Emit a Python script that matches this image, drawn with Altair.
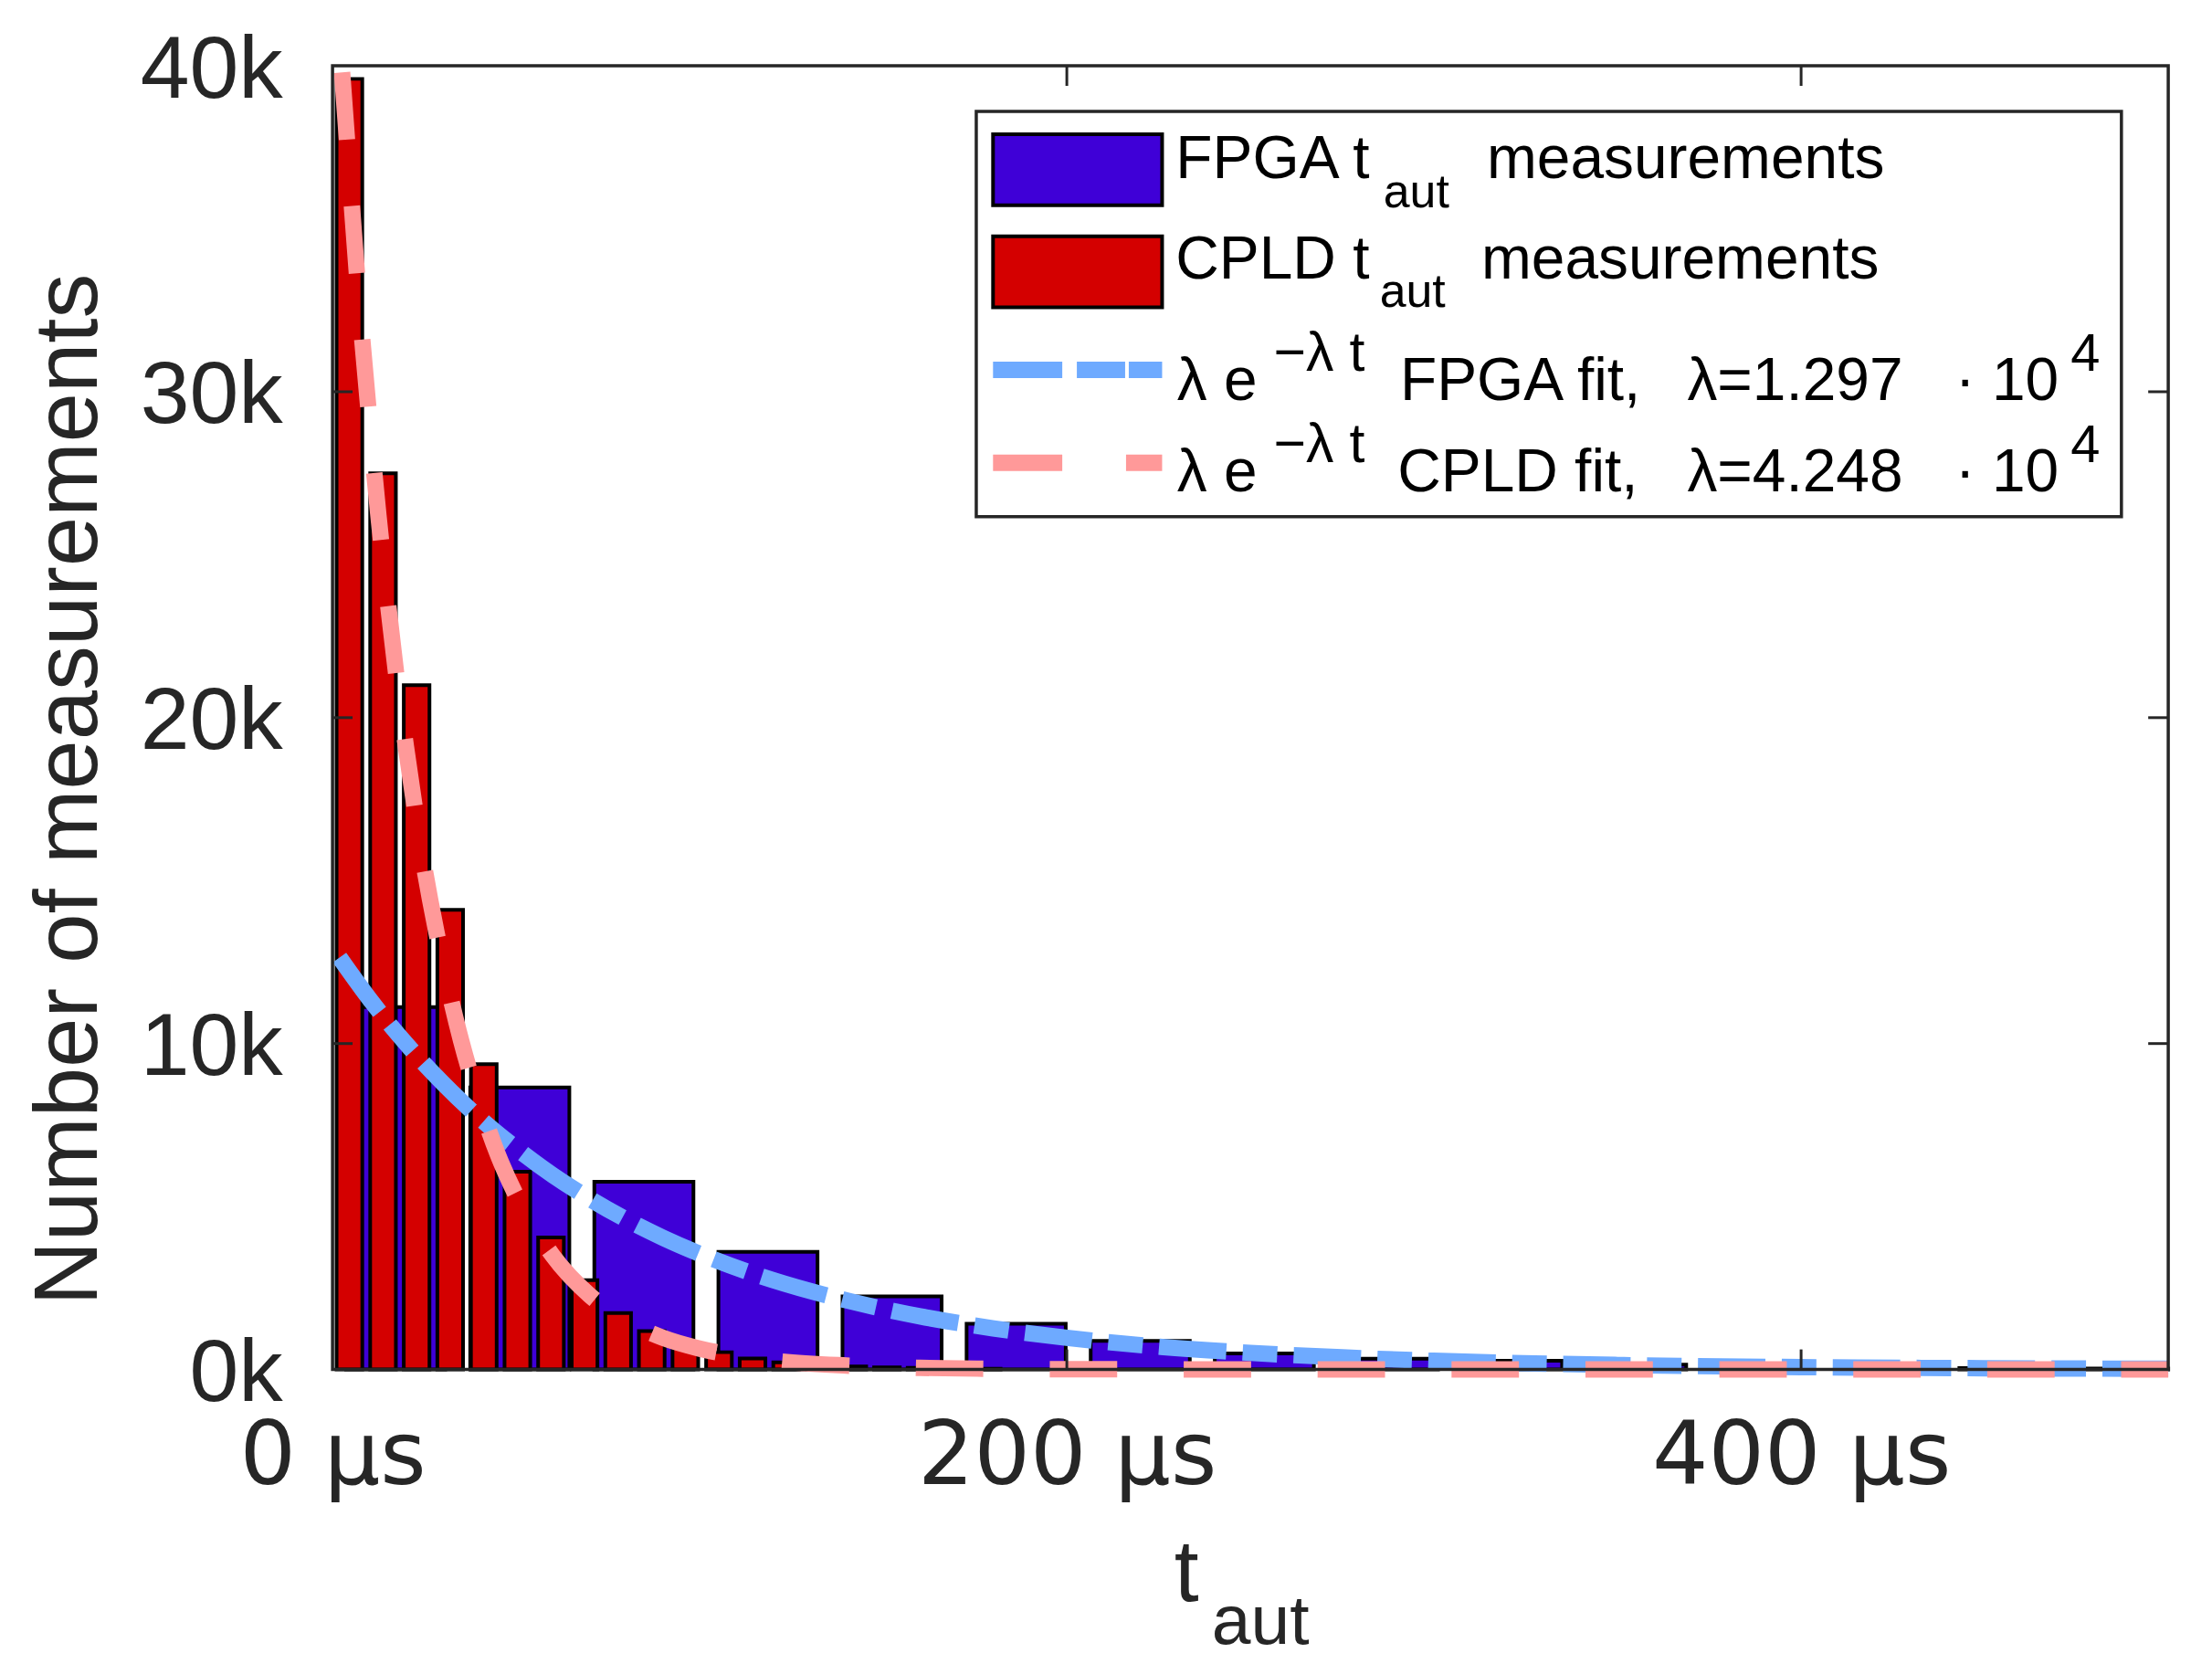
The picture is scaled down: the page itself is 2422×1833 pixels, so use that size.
import altair as alt
import pandas as pd

# ---------------- data ----------------
# CPLD histogram (red bars): bin centre [µs] and count
cpld_t = [4.6, 13.75, 22.9, 32.05, 41.2, 50.35, 59.5, 68.65, 77.8, 86.95,
          96.1, 105.25, 114.4, 123.55, 132.7, 141.85, 151.0, 160.15, 169.3, 178.45]
cpld_n = [39600, 27500, 21000, 14100, 9370, 6070, 4050, 2740, 1730, 1180,
          800, 530, 340, 220, 130, 90, 65, 47, 30, 20]

# FPGA histogram (blue bars): bin centre [µs] and count
fpga_t = [17.2, 51.0, 84.8, 118.6, 152.4, 186.2, 220.0, 253.8, 287.6, 321.4,
          355.2, 389.0, 422.8, 456.6, 490.4]
fpga_n = [11120, 8650, 5760, 3610, 2240, 1400, 880, 490, 330, 270,
          150, 90, 60, 40, 30]

# fitted curves
fpga_fit_t = [1.9, 10, 20, 30, 40, 50, 60, 70, 80, 90, 100, 120, 140, 160, 180,
              200, 225, 250, 275, 300, 350, 400, 450, 500]
fpga_fit_n = [12640, 11380, 10000, 8790, 7720, 6790, 5960, 5240, 4600, 4040, 3550,
              2740, 2120, 1630, 1260, 970, 700, 510, 370, 265, 138, 72, 38, 20]

cpld_fit_t = [2.6, 5, 7.5, 10, 12.5, 15, 17.5, 20, 25, 30, 35, 40, 45, 50, 60, 70,
              80, 90, 100, 110, 120, 140, 160, 180, 200, 250, 300, 400, 500]
cpld_fit_n = [39800, 36100, 32400, 29200, 26200, 23600, 21200, 19100, 15400, 12500,
              10100, 8200, 6600, 5340, 3490, 2280, 1490, 970, 640, 420, 270, 120,
              50, 21, 9, 1, 0, 0, 0]

x_ticks = [0, 200, 400]
y_ticks = [0, 10000, 20000, 30000, 40000]
inner_x_ticks = [200, 400]
inner_y_ticks = [10000, 20000, 30000]

y_title = "Number of measurements"
x_title_main = "t"
x_title_sub = "aut"
leg_meas = ["FPGA t", "CPLD t"]
leg_sub = "aut"
leg_meas_tail = "measurements"
leg_fit = ["FPGA fit,", "CPLD fit,"]
leg_lambda = ["λ=1.297", "λ=4.248"]
leg_exp_base = "λ e"
leg_exp_sup = "−λ t"
leg_pow_base = "· 10"
leg_pow_sup = "4"

# ---------------- styling ----------------
W, H = 2015, 1431
FONT = "Liberation Sans"
AX = "#262626"
BLUE = "#3F00D7"
RED = "#D40000"
LBLUE = "#6EAAFF"
PINK = "#FF9999"

xs = alt.Scale(domain=[0, 500], nice=False, zero=False)
ys = alt.Scale(domain=[0, 40000], nice=False)

xaxis = alt.Axis(values=x_ticks, labelExpr="datum.value + ' µs'", title=None,
                 grid=False, domain=False, ticks=False, tickSize=0,
                 labelFont="DejaVu Sans", labelFontSize=97, labelColor=AX, labelLimit=0,
                 labelPadding=125, labelBaseline="alphabetic", labelAlign="center",
                 labelOverlap=False, labelFlush=False, labelBound=False)
yaxis = alt.Axis(values=y_ticks, labelExpr="(datum.value/1000) + 'k'",
                 title=y_title, titleFont=FONT, titleFontSize=98,
                 titleFontWeight="normal", titleColor=AX, titleAngle=270,
                 titleX=-259, titleY=794, titleBaseline="alphabetic",
                 titleAlign="center", titleLimit=0,
                 grid=False, domain=False, ticks=False, tickSize=0,
                 labelFont=FONT, labelFontSize=97, labelColor=AX, labelLimit=0,
                 labelPadding=55, labelBaseline="alphabetic", labelOffset=34,
                 labelAlign="right", labelOverlap=False, labelFlush=False,
                 labelBound=False)


def X(f):
    return alt.X(f, scale=xs, axis=xaxis)


def Y(f):
    return alt.Y(f, scale=ys, axis=yaxis)


fpga_df = pd.DataFrame({"t": fpga_t, "n": fpga_n})
cpld_df = pd.DataFrame({"t": cpld_t, "n": cpld_n})
fpga_fit = pd.DataFrame({"t": fpga_fit_t, "n": fpga_fit_n})
cpld_fit = pd.DataFrame({"t": cpld_fit_t, "n": cpld_fit_n})
one = pd.DataFrame({"a": [0]})

fpga_bars = alt.Chart(fpga_df).transform_calculate(
    x0="datum.t - 13.5", x1="min(datum.t + 13.5, 500)", base="0"
).mark_rect(color=BLUE, stroke="black", strokeWidth=4).encode(
    x=X("x0:Q"), x2="x1:Q", y=Y("n:Q"), y2="base:Q")

cpld_bars = alt.Chart(cpld_df).transform_calculate(
    x0="datum.t - 3.5", x1="datum.t + 3.5", base="0"
).mark_rect(color=RED, stroke="black", strokeWidth=4).encode(
    x=X("x0:Q"), x2="x1:Q", y=Y("n:Q"), y2="base:Q")

fpga_line = alt.Chart(fpga_fit).mark_line(
    color=LBLUE, strokeWidth=18, strokeDash=[74, 18, 38, 18], strokeCap="butt",
    interpolate="monotone").encode(x=X("t:Q"), y=Y("n:Q"))

cpld_line = alt.Chart(cpld_fit).mark_line(
    color=PINK, strokeWidth=18, strokeDash=[74, 73], strokeCap="butt",
    interpolate="monotone").encode(x=X("t:Q"), y=Y("n:Q"))

ytk = pd.DataFrame({"v": inner_y_ticks})
xtk = pd.DataFrame({"v": inner_x_ticks})
tick_style = dict(color=AX, strokeWidth=3)
ticks = [
    alt.Chart(ytk).mark_rule(**tick_style).encode(y=Y("v:Q"), x=alt.value(0), x2=alt.value(22)),
    alt.Chart(ytk).mark_rule(**tick_style).encode(y=Y("v:Q"), x=alt.value(W - 22), x2=alt.value(W)),
    alt.Chart(xtk).mark_rule(**tick_style).encode(x=X("v:Q"), y=alt.value(H - 22), y2=alt.value(H)),
    alt.Chart(xtk).mark_rule(**tick_style).encode(x=X("v:Q"), y=alt.value(0), y2=alt.value(22)),
]

frame = alt.Chart(one).mark_rect(filled=False, stroke=AX, strokeWidth=3.5).encode(
    x=alt.value(0), x2=alt.value(W), y=alt.value(0), y2=alt.value(H))


def txt(s, x, y, size, color="black"):
    return alt.Chart(one).mark_text(text=s, align="left", baseline="alphabetic",
                                    font=FONT, fontSize=size, color=color).encode(
        x=alt.value(x), y=alt.value(y))


legend = [
    alt.Chart(one).mark_rect(fill="white", stroke=AX, strokeWidth=3.5).encode(
        x=alt.value(706.6), x2=alt.value(1963.6), y=alt.value(50), y2=alt.value(495)),
    alt.Chart(one).mark_rect(fill=BLUE, stroke="black", strokeWidth=4).encode(
        x=alt.value(725), x2=alt.value(910.6), y=alt.value(75), y2=alt.value(153)),
    alt.Chart(one).mark_rect(fill=RED, stroke="black", strokeWidth=4).encode(
        x=alt.value(725), x2=alt.value(910.6), y=alt.value(187), y2=alt.value(265)),
    alt.Chart(one).mark_rule(color=LBLUE, strokeWidth=18, strokeDash=[76, 16, 53, 4],
                             strokeCap="butt").encode(
        x=alt.value(725), x2=alt.value(910.6), y=alt.value(333.7)),
    alt.Chart(one).mark_rule(color=PINK, strokeWidth=18, strokeDash=[76, 70],
                             strokeCap="butt").encode(
        x=alt.value(725), x2=alt.value(910.6), y=alt.value(435.7)),
    txt(leg_meas[0], 925.5, 123, 66),
    txt(leg_sub, 1153.5, 155, 52),
    txt(leg_meas_tail, 1267, 123, 66),
    txt(leg_meas[1], 925.5, 233.3, 66),
    txt(leg_sub, 1149.4, 265, 52),
    txt(leg_meas_tail, 1261, 233.3, 66),
]
for i, (yb, ys_) in enumerate([(366.7, 335), (467.3, 435)]):
    legend += [
        txt(leg_exp_base, 927, yb, 66),
        txt(leg_exp_sup, 1033, ys_, 61),
        txt(leg_fit[i], 1171.8 if i == 0 else 1169, yb, 66),
        txt(leg_lambda[i], 1487, yb, 66),
        txt(leg_pow_base, 1781, yb, 66),
        txt(leg_pow_sup, 1908, ys_, 58),
    ]

xtitle = [
    txt(x_title_main, 924, 1685, 97, AX),
    txt(x_title_sub, 965, 1732, 77, AX),
]

chart = alt.layer(
    fpga_bars, cpld_bars, fpga_line, cpld_line, *ticks, frame, *legend, *xtitle
).properties(
    width=W, height=H,
    autosize=alt.AutoSizeParams(type="none"),
    padding={"left": 357, "top": 62, "right": 40, "bottom": 320},
).configure_view(stroke=None)

chart.save("out.html", embed_options={"renderer": "svg", "actions": False})
